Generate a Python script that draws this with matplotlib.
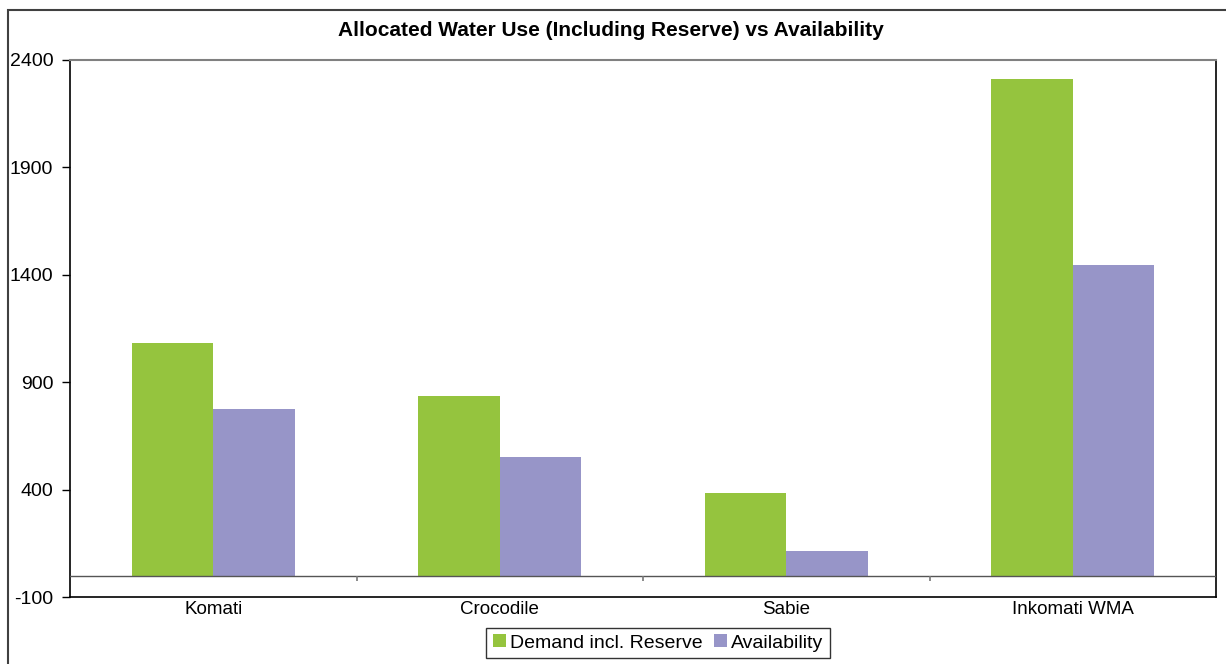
import numpy as np
import matplotlib.pyplot as plt
from matplotlib.patches import Rectangle

plt.rcParams["font.family"] = ["Liberation Sans", "DejaVu Sans"]
plt.rcParams["axes.unicode_minus"] = False

regions = ["Komati", "Crocodile", "Sabie", "Inkomati WMA"]
demand = [1082, 836, 384, 2311]
availability = [775, 552, 114, 1445]
yticks = [-100, 400, 900, 1400, 1900, 2400]

green = "#95c43e"
purple = "#9795c8"

fig = plt.figure(figsize=(12.26, 6.64), dpi=100)
ax = fig.add_axes([70 / 1226, 67 / 664, 1146 / 1226, 537 / 664])

x = np.arange(len(regions))
w = 0.285
ax.bar(x - w / 2, demand, w, color=green, label="Demand incl. Reserve")
ax.bar(x + w / 2, availability, w, color=purple, label="Availability")

ax.set_xlim(-0.5, len(regions) - 0.5)
ax.set_ylim(-100, 2400)
ax.set_yticks(yticks)
ax.tick_params(axis="y", direction="out", length=6, width=1, labelsize=14, pad=6)
ax.set_xticks(x)
ax.set_xticklabels(regions)
ax.tick_params(axis="x", length=0, labelsize=13.5, pad=3)

# category axis at zero with dividers between groups
ax.axhline(0, color="#555555", lw=1.0, zorder=3)
ax.vlines(x[:-1] + 0.5, -25, 0, color="#777777", lw=1.2, zorder=3)

ax.spines["top"].set_color("#808080")
ax.spines["top"].set_linewidth(1.5)
for s in ["left", "right", "bottom"]:
    ax.spines[s].set_color("black")
    ax.spines[s].set_linewidth(1.2)

fig.text(611 / 1226, 1 - 30 / 664, "Allocated Water Use (Including Reserve) vs Availability",
         ha="center", va="center", fontsize=15, fontweight="bold")

leg = fig.legend(loc="center", bbox_to_anchor=(658 / 1226, 21 / 664), ncol=2,
                 fontsize=14, frameon=True, fancybox=False, edgecolor="black",
                 handlelength=0.65, handleheight=0.65, handletextpad=0.2,
                 columnspacing=0.6, borderpad=0.35, borderaxespad=0)
leg.get_frame().set_linewidth(1.0)

# outer chart border
fig.patches.append(Rectangle((8 / 1226, -0.1), 1.2, 1 - 10 / 664 + 0.1,
                             transform=fig.transFigure, fill=False,
                             edgecolor="#404040", lw=1.5))

fig.savefig("out.png", dpi=100)
